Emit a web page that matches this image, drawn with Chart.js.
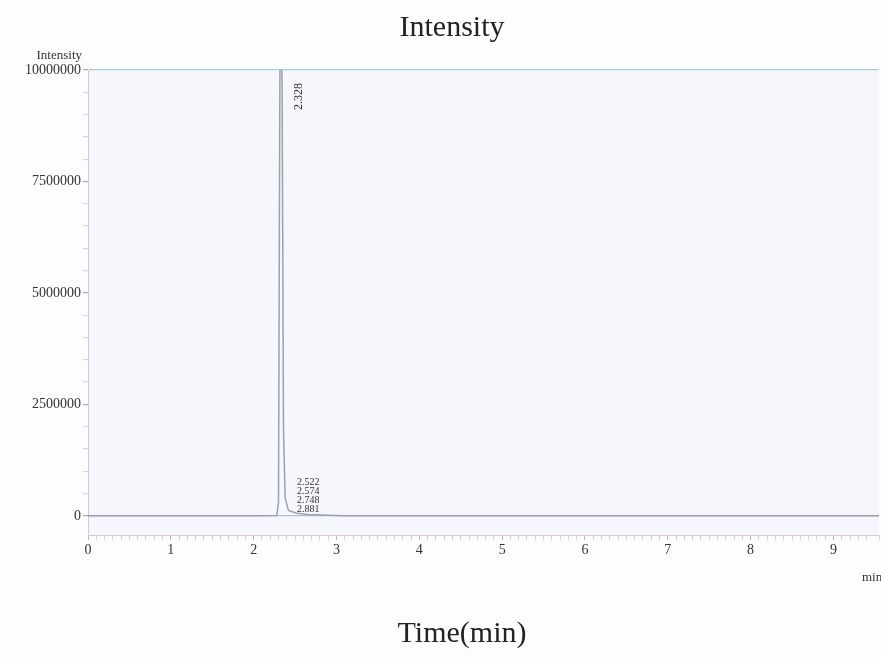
<!DOCTYPE html>
<html>
<head>
<meta charset="utf-8">
<script src="https://cdn.jsdelivr.net/npm/chart.js@4"></script>
<style>
    html, body { margin: 0; padding: 0; overflow: hidden; background: #fdfdff; }
    #wrap { width: 881px; height: 658px; }
</style>
</head>
<body>
<div id="wrap"><canvas id="chromChart" width="881" height="658"></canvas></div>
<script>
// Chromatogram trace (time in min, intensity)
const times = [0, 1.0, 2.0, 2.28, 2.30, 2.315, 2.328, 2.345, 2.36, 2.38, 2.42, 2.52, 2.574, 2.65, 2.748, 2.881, 3.1, 4.0, 6.0, 8.0, 9.6];
const intensity = [0, 0, 0, 5000, 300000, 9000000, 14000000, 9000000, 2000000, 400000, 120000, 60000, 45000, 30000, 25000, 15000, 0, 0, 0, 0, 0];

// Peak labels
const peakTimes = [2.328, 2.522, 2.574, 2.748, 2.881];
const peakLabels = ['2.328', '2.522', '2.574', '2.748', '2.881'];

// Axis settings
const yMajorTicks = [0, 2500000, 5000000, 7500000, 10000000];
const yMinorStep = 500000;
const xMax = 9.55;

const serif = '"Liberation Serif", "DejaVu Serif", serif';

const backgroundPlugin = {
    id: 'bg',
    beforeDraw(chart) {
        const { ctx, chartArea } = chart;
        ctx.save();
        ctx.fillStyle = '#fdfdff';
        ctx.fillRect(0, 0, chart.width, chart.height);
        ctx.fillStyle = '#f5f7fc';
        ctx.fillRect(chartArea.left, chartArea.top, chartArea.right - chartArea.left, chartArea.bottom - chartArea.top);
        ctx.restore();
    }
};

const labelsPlugin = {
    id: 'peakText',
    afterDraw(chart) {
        const { ctx, scales } = chart;
        const x = scales.x, y = scales.y;
        ctx.save();
        ctx.fillStyle = '#222';

        // titles
        ctx.font = '30px ' + serif;
        ctx.textAlign = 'center';
        ctx.textBaseline = 'middle';
        ctx.fillText('Intensity', 452, 28);
        ctx.fillText('Time(min)', 462, 634);

        // small caption above y axis
        ctx.fillStyle = '#333';
        ctx.font = '13px ' + serif;
        ctx.textAlign = 'right';
        ctx.textBaseline = 'bottom';
        ctx.fillText('Intensity', x.left - 6, y.getPixelForValue(10000000) - 8);

        // unit at the right end of the time axis
        ctx.textAlign = 'left';
        ctx.textBaseline = 'middle';
        ctx.fillText('min', chart.width - 19, 578);

        // retention time of main peak, rotated
        ctx.font = '12px ' + serif;
        ctx.save();
        ctx.translate(x.getPixelForValue(peakTimes[0]) + 18, y.getPixelForValue(10000000) + 40);
        ctx.rotate(-Math.PI / 2);
        ctx.fillText(peakLabels[0], 0, 0);
        ctx.restore();

        // small peaks, stacked
        ctx.font = '10px ' + serif;
        ctx.textBaseline = 'alphabetic';
        const x0 = x.getPixelForValue(peakTimes[1]);
        const yBase = y.getPixelForValue(0) - 4;
        for (let i = 1; i < peakTimes.length; i++) {
            ctx.fillText(peakLabels[i], x0, yBase - (peakTimes.length - 1 - i) * 9);
        }
        ctx.restore();
    }
};

const isInt = v => Math.abs(v - Math.round(v)) < 1e-6;
const isMajorY = v => yMajorTicks.includes(v);

const ctx = document.getElementById('chromChart').getContext('2d');
const chromChart = new Chart(ctx, {
    type: 'line',
    data: {
        datasets: [{
            data: times.map((t, i) => ({ x: t, y: intensity[i] })),
            borderColor: '#9ba0aa',
            borderWidth: 1.5,
            pointRadius: 0,
            tension: 0,
            fill: false
        }]
    },
    plugins: [backgroundPlugin, labelsPlugin],
    options: {
        responsive: false,
        animation: false,
        layout: { padding: { top: 70, right: 0, bottom: 0, left: 0 } },
        plugins: {
            legend: { display: false },
            tooltip: { enabled: false },
            title: { display: false }
        },
        scales: {
            x: {
                type: 'linear',
                min: 0,
                max: xMax,
                afterFit: s => { s.height = 123; },
                border: { display: true, color: '#d9c9d6', dash: [1, 2] },
                grid: {
                    drawOnChartArea: false,
                    tickLength: 5,
                    tickColor: c => isInt(c.tick.value) ? '#bbb' : '#e0c8d4'
                },
                ticks: {
                    stepSize: 0.1,
                    autoSkip: false,
                    maxRotation: 0,
                    padding: 2,
                    color: '#333',
                    font: { family: serif, size: 14 },
                    callback: v => isInt(v) ? String(Math.round(v)) : ''
                }
            },
            y: {
                min: -430000,
                max: 10000000,
                afterFit: s => { s.width = 88; },
                afterBuildTicks: s => {
                    const ticks = [];
                    for (let v = 0; v <= 10000000; v += yMinorStep) ticks.push({ value: v });
                    s.ticks = ticks;
                },
                border: { display: true, color: '#c8ccd6' },
                grid: {
                    drawOnChartArea: true,
                    drawTicks: true,
                    tickLength: 5,
                    tickColor: c => isMajorY(c.tick.value) ? '#aaa' : '#d4d6de',
                    lineWidth: 1.2,
                    color: c => {
                        if (c.tick && c.tick.value === 0) return '#aebfdc';
                        if (c.tick && c.tick.value === 10000000) return '#9fd2d2';
                        return 'rgba(0,0,0,0)';
                    }
                },
                ticks: {
                    autoSkip: false,
                    padding: 2,
                    color: '#333',
                    font: { family: serif, size: 14 },
                    callback: v => isMajorY(v) ? String(v) : ''
                }
            }
        }
    }
});
</script>
</body>
</html>
